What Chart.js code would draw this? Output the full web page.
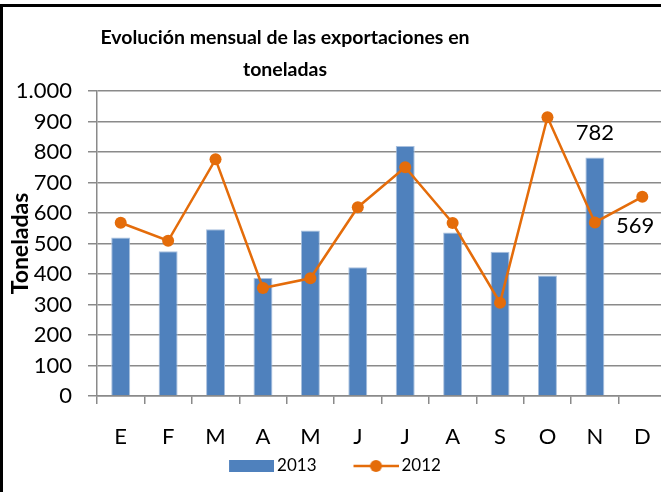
<!DOCTYPE html>
<html>
<head>
<meta charset="utf-8">
<script src="https://cdn.jsdelivr.net/npm/chart.js@4"></script>
<style>
  html, body { margin: 0; padding: 0; background: #fff; }
  #marco { position: absolute; left: 0; top: 0; width: 661px; height: 492px; overflow: hidden; }
  #borde { position: absolute; left: 0; top: 4px; width: 700px; height: 600px; border-left: 3px solid #000; border-top: 3px solid #000; }
  canvas { position: absolute; left: 0; top: 0; }
</style>
</head>
<body>
<div id="marco">
  <div id="borde"></div>
  <canvas id="grafico" width="672" height="492"></canvas>
</div>
<script>
// datos
const meses = ['E', 'F', 'M', 'A', 'M', 'J', 'J', 'A', 'S', 'O', 'N', 'D'];
const valores2013 = [520, 475, 547, 387, 543, 422, 820, 536, 473, 395, 782, null];
const valores2012 = [568, 509, 776, 354, 386, 619, 750, 567, 306, 914, 569, 653];
const etiquetas2013 = [10];   // índices con etiqueta de valor
const etiquetas2012 = [10];
const tituloLineas = ['Evolución mensual de las exportaciones en', 'toneladas'];

const azul = '#4F81BD';
const naranja = '#E46C0A';
const gris = '#8a8a8a';
const fuente = 'Lato';
const CENTRO_TITULO = 285;
const DESPLAZA_LEYENDA = -16.75;

// iconos de la leyenda: el dibujo va en los 45px de la derecha
function iconoBarra() {
    const c = document.createElement('canvas');
    c.width = 81; c.height = 12;
    const g = c.getContext('2d');
    g.fillStyle = azul;
    g.fillRect(36, 0, 45, 12);
    return c;
}
function iconoLinea() {
    const c = document.createElement('canvas');
    c.width = 81; c.height = 14;
    const g = c.getContext('2d');
    g.strokeStyle = naranja;
    g.lineWidth = 2.5;
    g.beginPath(); g.moveTo(36, 7); g.lineTo(81, 7); g.stroke();
    g.fillStyle = naranja;
    g.beginPath(); g.arc(58.5, 7, 6, 0, Math.PI * 2); g.fill();
    return c;
}
const iconos = [iconoBarra(), iconoLinea()];

const ajustes = {
    id: 'ajustes',
    afterLayout(chart) {
        const t = chart.titleBlock;
        if (t) {
            const ancho = t.right - t.left;
            t.left = CENTRO_TITULO - ancho / 2;
            t.right = CENTRO_TITULO + ancho / 2;
        }
        const l = chart.legend;
        if (l) {
            l.left += DESPLAZA_LEYENDA;
            l.right += DESPLAZA_LEYENDA;
        }
    },
    afterDatasetsDraw(chart) {
        const ctx = chart.ctx;
        ctx.save();
        ctx.font = '22px ' + fuente;
        ctx.fillStyle = '#000';
        ctx.textBaseline = 'middle';
        const barras = chart.getDatasetMeta(0).data;
        ctx.textAlign = 'center';
        etiquetas2013.forEach(i => {
            ctx.fillText(String(valores2013[i]), barras[i].x, barras[i].y - 25);
        });
        const puntos = chart.getDatasetMeta(1).data;
        ctx.textAlign = 'left';
        etiquetas2012.forEach(i => {
            ctx.fillText(String(valores2012[i]), puntos[i].x + 21, puntos[i].y + 3);
        });
        ctx.restore();
    }
};

const ctx = document.getElementById('grafico').getContext('2d');
new Chart(ctx, {
    data: {
        labels: meses,
        datasets: [
            {
                type: 'bar',
                label: '2013',
                data: valores2013,
                backgroundColor: azul,
                borderColor: '#a9c0de',
                borderWidth: { top: 1, left: 1, right: 1, bottom: 0 },
                categoryPercentage: 1,
                barPercentage: 0.4,
                order: 1
            },
            {
                type: 'line',
                label: '2012',
                data: valores2012,
                borderColor: naranja,
                backgroundColor: naranja,
                borderWidth: 2.5,
                tension: 0,
                pointRadius: 6,
                pointHoverRadius: 6,
                pointBorderWidth: 0,
                pointBackgroundColor: naranja,
                order: 0
            }
        ]
    },
    options: {
        responsive: false,
        animation: false,
        layout: { padding: { left: 5, right: 4, top: 0, bottom: 7.5 } },
        plugins: {
            title: {
                display: true,
                text: tituloLineas,
                color: '#000',
                font: { family: fuente, size: 19.5, weight: 'bold', lineHeight: 32 / 19.5 },
                padding: { top: 21.5, bottom: 5.5 }
            },
            legend: {
                position: 'bottom',
                labels: {
                    usePointStyle: true,
                    pointStyleWidth: 70,
                    padding: 6.5,
                    color: '#000',
                    font: { family: fuente, size: 17 },
                    sort: (a, b) => a.datasetIndex - b.datasetIndex,
                    generateLabels(chart) {
                        const items = Chart.defaults.plugins.legend.labels.generateLabels(chart);
                        items.forEach(it => { it.pointStyle = iconos[it.datasetIndex]; });
                        return items;
                    }
                }
            },
            tooltip: { enabled: false }
        },
        scales: {
            x: {
                offset: true,
                afterFit(s) { s.height = 55; },
                grid: { offset: true, drawOnChartArea: false, drawTicks: true, tickLength: 8, color: gris, lineWidth: 1.5 },
                border: { display: true, color: gris, width: 1.5 },
                ticks: { padding: 20, color: '#000', font: { family: fuente, size: 22 } }
            },
            y: {
                min: 0,
                max: 1000,
                afterFit(s) { s.width = 92; },
                grid: { color: gris, lineWidth: 1.5, drawTicks: true, tickLength: 9 },
                border: { display: true, color: gris, width: 1.5 },
                ticks: {
                    stepSize: 100,
                    padding: 16,
                    color: '#000',
                    font: { family: fuente, size: 22 },
                    callback: v => v.toLocaleString('de-DE')
                },
                title: {
                    display: true,
                    text: 'Toneladas',
                    color: '#000',
                    font: { family: fuente, size: 23, weight: 'bold' },
                    padding: { top: 2, bottom: 0 }
                }
            }
        }
    },
    plugins: [ajustes]
});
</script>
</body>
</html>
